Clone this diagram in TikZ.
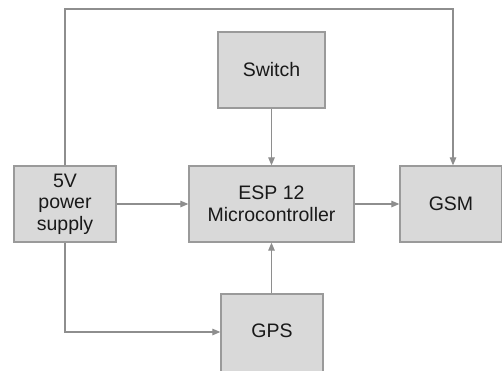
\documentclass[tikz,border=0pt]{standalone}
\usepackage{fontspec}
\setmainfont{Liberation Sans}
\usetikzlibrary{arrows.meta}
\definecolor{boxfill}{HTML}{D9D9D9}
\definecolor{boxline}{HTML}{9A9A9A}
\definecolor{wire}{HTML}{8E8E8E}
\begin{document}
\begin{tikzpicture}[x=1pt,y=-1pt,
  blk/.style={draw=boxline,fill=boxfill,line width=1.3pt,inner sep=0pt,
    font=\fontsize{19.5}{21.5}\selectfont,align=center,text=black!90},
  wirearrow/.style={draw=wire,line width=1.2pt,-{Triangle[length=8pt,width=6.5pt]}}]
\useasboundingbox (0,0) rectangle (502,370);
\fill[white] (0,0) rectangle (502,370);
\node[blk,minimum width=107pt,minimum height=76pt] (sw) at (271.5,70) {Switch};
\node[blk,minimum width=102pt,minimum height=76pt] (ps) at (65,204) {5V\\power\\supply};
\node[blk,minimum width=165pt,minimum height=76pt] (esp) at (271.5,204) {ESP 12\\Microcontroller};
\node[blk,minimum width=102pt,minimum height=76pt] (gsm) at (451,204) {GSM};
\node[blk,minimum width=102pt,minimum height=80pt] (gps) at (272,334) {};
\node[font=\fontsize{19.5}{21.5}\selectfont,text=black!90] (gpst) at (272,331) {GPS};
\coordinate (tl) at (65,9);
\coordinate (tr) at (453,9);
\coordinate (bl) at (65,332);
\draw[wirearrow] (sw.south) -- (esp.north);
\draw[wirearrow] (ps.east) -- (esp.west);
\draw[wirearrow] (esp.east) -- (gsm.west);
\draw[wirearrow] (gps.north -| esp.south) -- (esp.south);
\draw[wirearrow] (ps.north) -- (tl) -- (tr) -- (tr |- gsm.north);
\draw[wirearrow] (ps.south) -- (bl) -- (bl -| gps.west);
\end{tikzpicture}
\end{document}
